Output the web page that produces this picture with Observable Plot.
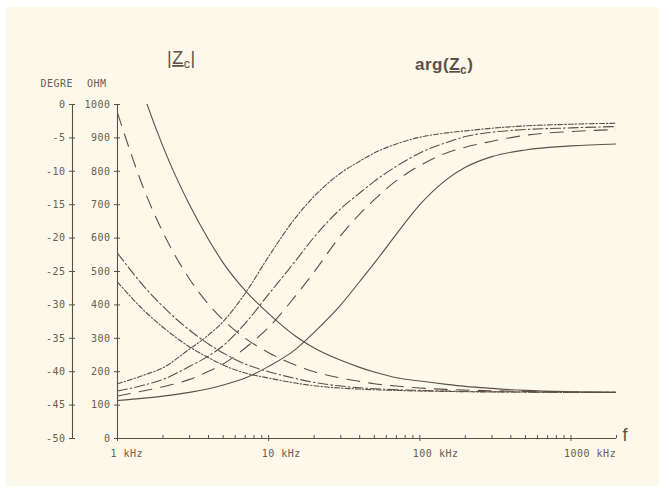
<!DOCTYPE html>
<html><head><meta charset="utf-8">
<script src="https://cdn.jsdelivr.net/npm/d3@7"></script>
<script src="https://cdn.jsdelivr.net/npm/@observablehq/plot@0.6"></script>
<style>
html,body{margin:0;padding:0;background:#ffffff;}
#chart{position:relative;width:659px;height:492px;}
svg text{font-variant-numeric:slashed-zero;}
.mono text{letter-spacing:0.5px;}
</style></head><body><div id="chart"></div>
<script>
// Frequencies (kHz)
const freqKHz = [1, 1.5, 2, 3, 4, 5, 7, 10, 15, 20, 30, 40, 50, 70, 100, 150, 200, 300, 500, 1000, 2000];

// |Zc| (ohm) for the four lines
const zSolid      = [1288, 1026, 874, 699, 596, 526, 443, 374, 307, 271, 234, 213, 199, 182, 172, 162, 156, 150, 144, 140, 138];
const zDashed     = [975, 745, 617, 477, 402, 355, 300, 257, 220, 200, 181, 171, 164, 157, 151, 147, 145, 143, 141, 139, 138];
const zDashDot    = [555, 455, 395, 324, 283, 256, 223, 200, 180, 168, 157, 152, 149, 146, 144, 142, 141, 140, 139, 138.5, 138];
const zDashDotDot = [468, 383, 333, 274, 242, 220, 196, 181, 166, 158, 151, 148, 146, 144, 142, 141, 140, 139.5, 139, 138, 138];

// arg(Zc) (degrees) for the four lines
const argSolid      = [-44.3, -43.95, -43.65, -43.1, -42.55, -42.0, -40.95, -39.2, -36.7, -34.1, -30.0, -26.5, -23.75, -19.4, -15.0, -11.25, -9.4, -7.8, -6.8, -6.2, -5.9];
const argDashed     = [-43.65, -42.85, -42.25, -41.15, -39.95, -38.85, -36.45, -33.35, -28.7, -25.05, -19.6, -16.4, -14.25, -11.4, -9.15, -7.25, -6.4, -5.5, -4.6, -4.05, -3.75];
const argDashDot    = [-42.9, -42.0, -41.15, -39.2, -37.65, -36.1, -32.75, -28.4, -23.45, -19.85, -15.6, -13.25, -11.5, -9.25, -7.25, -5.7, -4.8, -4.15, -3.75, -3.5, -3.3];
const argDashDotDot = [-41.8, -40.5, -39.4, -36.6, -34.5, -32.5, -28.25, -22.75, -17.0, -13.75, -10.25, -8.5, -7.25, -5.9, -4.9, -4.25, -3.95, -3.55, -3.2, -2.95, -2.8];

// Axes
const ohmTicks = [0, 100, 200, 300, 400, 500, 600, 700, 800, 900, 1000];
const degreeTicks = [0, -5, -10, -15, -20, -25, -30, -35, -40, -45, -50];
const freqTicks = [1, 10, 100, 1000];
const freqTickLabels = ["1 kHz", "10 kHz", "100 kHz", "1000 kHz"];
const minorFreqTicks = [2,3,4,5,6,7,8,9, 20,30,40,50,60,70,80,90, 200,300,400,500,600,700,800,900, 2000];

// degree -> shared ohm-scale position (0 deg at 1000 ohm, -50 deg at 0 ohm)
const degToY = d => (d + 50) * 20;

const ink = "#5c5046";
const textInk = "#6a5c4f";

const rows = (vals, isDeg) => freqKHz.map((f, i) => ({f, y: isDeg ? degToY(vals[i]) : vals[i]}));

const styles = {
  solid: null,
  dashed: "13,9",
  dashDot: "10,3,1.6,3",
  dashDotDot: "5,2,1.4,2"
};

const series = [
  [zSolid, false, styles.solid],
  [zDashed, false, styles.dashed],
  [zDashDot, false, styles.dashDot],
  [zDashDotDot, false, styles.dashDotDot],
  [argSolid, true, styles.solid],
  [argDashed, true, styles.dashed],
  [argDashDot, true, styles.dashDot],
  [argDashDotDot, true, styles.dashDotDot]
];

const lineMarks = series.map(([vals, isDeg, dash]) =>
  Plot.line(rows(vals, isDeg), {
    x: "f", y: "y", stroke: ink, strokeWidth: 1.1,
    strokeDasharray: dash || undefined, curve: "monotone-x", clip: true
  })
);

const plot = Plot.plot({
  width: 659, height: 492,
  marginLeft: 117, marginRight: 43, marginTop: 104, marginBottom: 54,
  className: "mono",
  style: {background: "transparent", color: textInk, fontFamily: "'DejaVu Sans Mono', monospace", fontSize: "10px"},
  x: {type: "log", domain: [1, 2000], axis: null},
  y: {domain: [0, 1000], axis: null},
  marks: [
    // ohm axis
    Plot.ruleX([1], {stroke: ink, strokeWidth: 1.1}),
    Plot.axisY(ohmTicks, {anchor: "left", tickSize: 6, dx: 3, tickPadding: 4, stroke: ink,
      tickFormat: d => String(d), fill: textInk, fontSize: 10, label: null}),
    // degree axis (same y scale, drawn further left)
    Plot.ruleX([1], {dx: -45, stroke: ink, strokeWidth: 1.1}),
    Plot.axisY(degreeTicks.map(degToY), {anchor: "left", tickSize: 6, dx: -42, tickPadding: 4, stroke: ink,
      tickFormat: v => String(Math.round(v / 20 - 50)), fill: textInk, fontSize: 10, label: null}),
    // frequency axis
    Plot.ruleY([0], {stroke: ink, strokeWidth: 1.1}),
    Plot.axisX(minorFreqTicks, {anchor: "bottom", tickSize: 3, dy: -3, tickFormat: () => "", stroke: ink, label: null}),
    Plot.axisX(freqTicks, {anchor: "bottom", tickSize: 6, dy: -3, tickFormat: () => "", stroke: ink, label: null}),
    Plot.text(freqTicks, {x: d => d, y: () => 0, text: (d, i) => freqTickLabels[i], textAnchor: "start", dx: -7, dy: 15, fill: textInk, fontSize: 10}),
    Plot.text(["f"], {x: () => 2000, y: () => 0, text: d => d, textAnchor: "start", dx: 6, dy: -3, fontSize: 18, fill: ink, fontFamily: "'Liberation Sans', sans-serif"}),
    ...lineMarks
  ]
});

const svg = d3.select(plot);
svg.insert("rect", ":first-child").attr("x", 6).attr("y", 7).attr("width", 653).attr("height", 479).attr("fill", "#fcf8ea");

// axis headers
svg.append("text").attr("x", 73).attr("y", 87).attr("text-anchor", "end")
  .attr("font-family", "'DejaVu Sans Mono', monospace").attr("font-size", 10).attr("fill", textInk).text("DEGRE");
svg.append("text").attr("x", 87).attr("y", 87).attr("text-anchor", "start")
  .attr("font-family", "'DejaVu Sans Mono', monospace").attr("font-size", 10).attr("fill", textInk).text("OHM");

// titles
function title(x, y, prefix, suffix, weight, size, spacing) {
  const t = svg.append("text").attr("x", x).attr("y", y).attr("text-anchor", "start")
    .attr("font-family", "'Liberation Sans', sans-serif").attr("font-size", size)
    .attr("font-weight", weight).attr("fill", ink).attr("letter-spacing", spacing);
  t.append("tspan").text(prefix);
  t.append("tspan").attr("text-decoration", "underline").text("Z");
  t.append("tspan").attr("font-size", size * 0.7).attr("dy", 4).text("c");
  t.append("tspan").attr("dy", -4).text(suffix);
}
title(167, 64, "|", "|", "normal", 18, 2.5);
title(415, 70, "arg(", ")", "bold", 17, 0.8);

document.getElementById("chart").appendChild(plot);
</script></body></html>
